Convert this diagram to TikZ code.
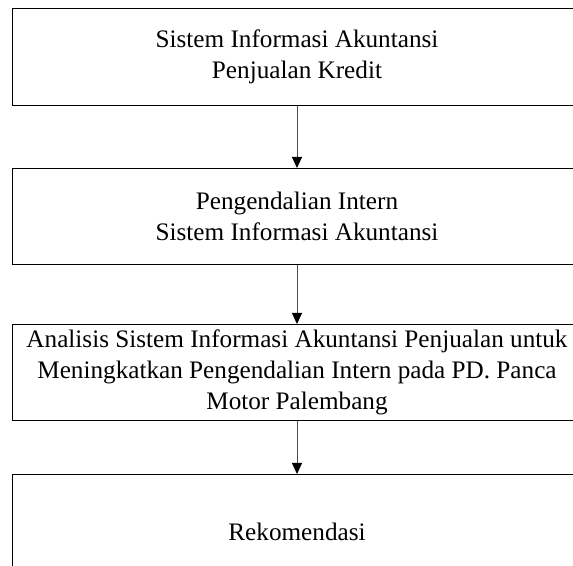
\documentclass[tikz,border=0pt]{standalone}
\usepackage{fontspec}
\setmainfont{Liberation Serif}
\usetikzlibrary{positioning,arrows.meta}
\newcommand{\bw}{285pt}
\tikzset{
kotak/.style={draw=black,line width=0.5pt,minimum width=\bw,align=center,inner sep=1pt,font=\fontsize{12.6}{15.4}\selectfont},
panah/.style={-{Triangle[width=5pt,length=5.5pt,color=black]},line width=0.5pt,draw=black!70}
}

\begin{document}
\begin{tikzpicture}
\useasboundingbox (0,0) rectangle (286.5pt,-283pt);
\node[kotak,minimum height=48.5pt,anchor=north] (sia) at (148.5pt,-4pt) {Sistem Informasi Akuntansi\\Penjualan Kredit};
\node[kotak,minimum height=48pt,below=31pt of sia] (pi) {Pengendalian Intern\\Sistem Informasi Akuntansi};
\node[kotak,minimum height=48pt,below=29.5pt of pi] (analisis) {Analisis Sistem Informasi Akuntansi Penjualan untuk\\Meningkatkan Pengendalian Intern pada PD. Panca\\Motor Palembang};
\node[kotak,minimum height=57pt,below=26.5pt of analisis] (rek) {Rekomendasi};
\foreach \a/\b in {sia/pi,pi/analisis,analisis/rek}{
\draw[panah] (\a) -- (\b);
}
\end{tikzpicture}
\end{document}
